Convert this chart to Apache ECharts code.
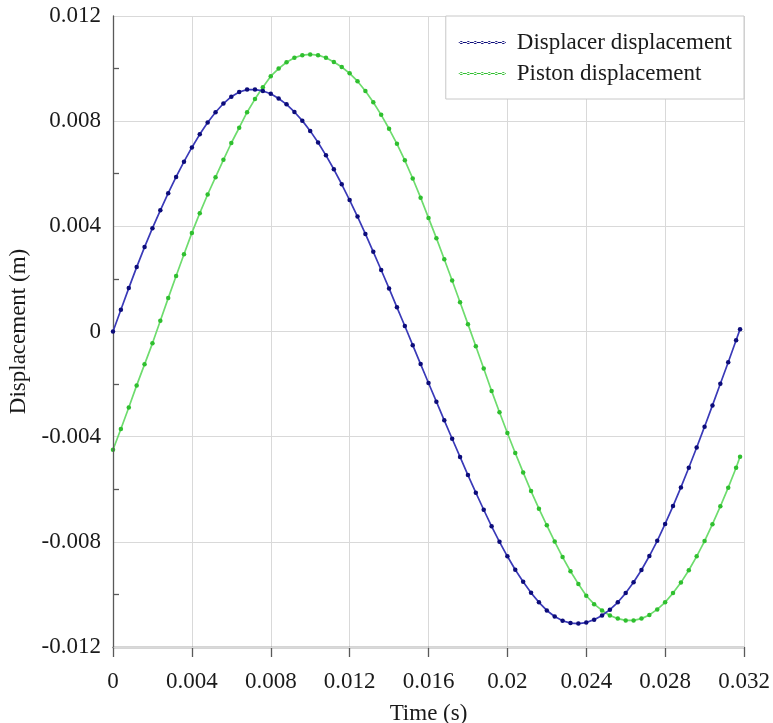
<!DOCTYPE html>
<html>
<head>
<meta charset="utf-8">
<script src="https://cdn.jsdelivr.net/npm/echarts@6/dist/echarts.min.js"></script>
<style>
html,body{margin:0;padding:0;background:#fff;}
#chart{width:773px;height:723px;}
</style>
</head>
<body>
<div id="chart"></div>
<script>
// Time samples (s)
const time = [
  0, 0.0004, 0.0008, 0.0012, 0.0016, 0.0020, 0.0024, 0.0028, 0.0032, 0.0036,
  0.0040, 0.0044, 0.0048, 0.0052, 0.0056, 0.0060, 0.0064, 0.0068, 0.0072, 0.0076,
  0.0080, 0.0084, 0.0088, 0.0092, 0.0096, 0.0100, 0.0104, 0.0108, 0.0112, 0.0116,
  0.0120, 0.0124, 0.0128, 0.0132, 0.0136, 0.0140, 0.0144, 0.0148, 0.0152, 0.0156,
  0.0160, 0.0164, 0.0168, 0.0172, 0.0176, 0.0180, 0.0184, 0.0188, 0.0192, 0.0196,
  0.0200, 0.0204, 0.0208, 0.0212, 0.0216, 0.0220, 0.0224, 0.0228, 0.0232, 0.0236,
  0.0240, 0.0244, 0.0248, 0.0252, 0.0256, 0.0260, 0.0264, 0.0268, 0.0272, 0.0276,
  0.0280, 0.0284, 0.0288, 0.0292, 0.0296, 0.0300, 0.0304, 0.0308, 0.0312, 0.0316,
  0.0318
];
// Displacer displacement (m)
const displacer = [
  0, 0.00083, 0.00165, 0.00245, 0.00321, 0.00393, 0.00461, 0.00526, 0.00588, 0.00646,
  0.00700, 0.00750, 0.00795, 0.00834, 0.00867, 0.00893, 0.00911, 0.00920, 0.00920, 0.00915,
  0.00904, 0.00886, 0.00864, 0.00835, 0.00802, 0.00763, 0.00719, 0.00670, 0.00617, 0.00560,
  0.00500, 0.00437, 0.00371, 0.00303, 0.00234, 0.00164, 0.00092, 0.00021, -0.00052, -0.00124,
  -0.00196, -0.00267, -0.00338, -0.00408, -0.00477, -0.00546, -0.00613, -0.00678, -0.00741, -0.00800,
  -0.00855, -0.00906, -0.00952, -0.00994, -0.01030, -0.01061, -0.01084, -0.01100, -0.01109, -0.01111,
  -0.01107, -0.01096, -0.01080, -0.01058, -0.01030, -0.00995, -0.00954, -0.00907, -0.00854, -0.00796,
  -0.00732, -0.00664, -0.00593, -0.00518, -0.00441, -0.00362, -0.00281, -0.00199, -0.00117, -0.00033,
  0.00009
];
// Piston displacement (m)
const piston = [
  -0.00450, -0.00371, -0.00289, -0.00205, -0.00125, -0.00045, 0.00041, 0.00127, 0.00211, 0.00294,
  0.00375, 0.00450, 0.00521, 0.00587, 0.00653, 0.00717, 0.00775, 0.00834, 0.00884, 0.00929,
  0.00971, 0.01000, 0.01024, 0.01041, 0.01051, 0.01054, 0.01051, 0.01041, 0.01025, 0.01006,
  0.00982, 0.00952, 0.00915, 0.00872, 0.00824, 0.00771, 0.00714, 0.00651, 0.00582, 0.00509,
  0.00432, 0.00355, 0.00275, 0.00194, 0.00111, 0.00028, -0.00056, -0.00141, -0.00226, -0.00307,
  -0.00386, -0.00462, -0.00536, -0.00607, -0.00674, -0.00737, -0.00799, -0.00858, -0.00912, -0.00960,
  -0.01005, -0.01037, -0.01061, -0.01080, -0.01092, -0.01099, -0.01099, -0.01092, -0.01078, -0.01057,
  -0.01030, -0.00995, -0.00955, -0.00908, -0.00855, -0.00797, -0.00733, -0.00665, -0.00594, -0.00518,
  -0.00476
];
// Minor tick positions on the displacement axis (m)
const yMinorTicks = [-0.010, -0.006, -0.002, 0.002, 0.006, 0.010];
const seriesNames = ['Displacer displacement', 'Piston displacement'];
const xAxisName = 'Time (s)';
const yAxisName = 'Displacement (m)';

const FONT = '"Liberation Serif", "Times New Roman", serif';
const TXT = '#1a1a1a';
const dotsIcon = 'path://M0,1.6L47,1.6L47,2.4L0,2.4Z' +
  [2.5, 9.5, 16.5, 23.5, 30.5, 37.5, 44.5].map(function (c) {
    return 'M' + (c - 1.6) + ',2a1.6,1.6 0 1,0 3.2,0a1.6,1.6 0 1,0 -3.2,0Z';
  }).join('');

function pairs(xs, ys) { return xs.map(function (x, i) { return [x, ys[i]]; }); }

const chart = echarts.init(document.getElementById('chart'), null, {renderer: 'canvas'});
chart.setOption({
  animation: false,
  backgroundColor: '#ffffff',
  grid: {left: 113, top: 16, width: 631, height: 631, containLabel: false, outerBoundsMode: 'none'},
  legend: {
    right: 29, top: 16, orient: 'vertical',
    backgroundColor: '#ffffff', borderColor: '#c8c8c8', borderWidth: 1,
    padding: [15, 12, 14, 13], itemGap: 8, itemWidth: 47, itemHeight: 4,
    textStyle: {fontFamily: FONT, fontSize: 23, color: TXT, padding: [0, 0, 0, 6]},
    data: [
      {name: seriesNames[0], icon: dotsIcon},
      {name: seriesNames[1], icon: dotsIcon}
    ]
  },
  xAxis: {
    type: 'value', min: 0, max: 0.032, interval: 0.004,
    name: xAxisName, nameLocation: 'middle', nameGap: 55,
    nameTextStyle: {fontFamily: FONT, fontSize: 23, color: TXT},
    axisLine: {show: true, onZero: false, lineStyle: {color: '#595959', width: 1.3}},
    axisTick: {show: true, inside: false, length: 10, lineStyle: {color: '#595959', width: 1.3}},
    axisLabel: {fontFamily: FONT, fontSize: 23, color: TXT, margin: 23},
    splitLine: {show: true, lineStyle: {color: '#d9d9d9', width: 1}}
  },
  yAxis: [
    {
      type: 'value', min: -0.012, max: 0.012, interval: 0.004, position: 'left',
      name: yAxisName, nameLocation: 'middle', nameGap: 76, nameRotate: 90,
      nameTextStyle: {fontFamily: FONT, fontSize: 23, color: TXT},
      axisLine: {show: true, onZero: false, lineStyle: {color: '#595959', width: 1.3}},
      axisTick: {show: true, inside: true, length: 6, customValues: yMinorTicks,
        lineStyle: {color: '#595959', width: 1.3}},
      minorTick: {show: false},
      axisLabel: {fontFamily: FONT, fontSize: 23, color: TXT, margin: 12},
      splitLine: {show: false},
      minorSplitLine: {show: false},
      z: 3
    },
    {
      type: 'value', min: -0.012, max: 0.012, interval: 0.004, position: 'left', offset: 0,
      axisLine: {show: false}, axisTick: {show: false}, axisLabel: {show: false},
      splitLine: {show: true, lineStyle: {color: '#d9d9d9', width: 1}},
      z: 1
    }
  ],
  series: [
    {
      name: seriesNames[0], type: 'line', data: pairs(time, displacer), yAxisIndex: 0,
      symbol: 'circle', symbolSize: 4.5, showSymbol: true,
      lineStyle: {color: '#3a3ab8', width: 1.7},
      itemStyle: {color: '#0c0c7a'},
      z: 3
    },
    {
      name: seriesNames[1], type: 'line', data: pairs(time, piston), yAxisIndex: 0,
      symbol: 'circle', symbolSize: 4.5, showSymbol: true,
      lineStyle: {color: '#6edc6e', width: 1.7},
      itemStyle: {color: '#2fbf2f'},
      z: 2
    }
  ]
});
</script>
</body>
</html>
